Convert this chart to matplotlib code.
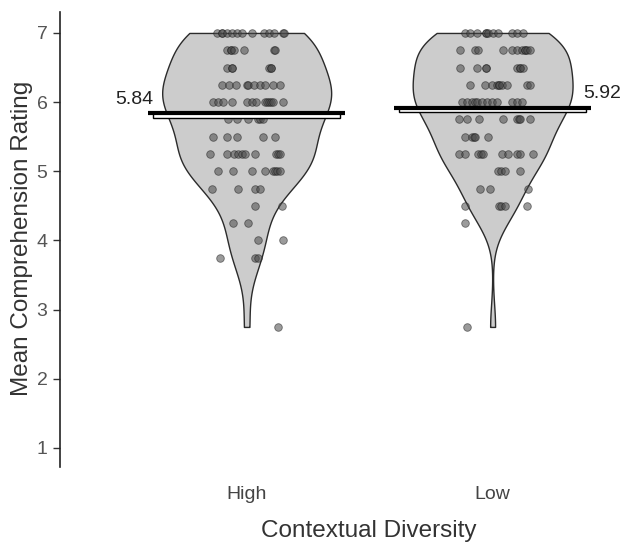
import numpy as np
import matplotlib
matplotlib.use('Agg')
import matplotlib.pyplot as plt
from matplotlib.patches import Rectangle

plt.rcParams['font.family'] = ['Liberation Sans', 'DejaVu Sans']

groups = ['High', 'Low']
means = [5.84, 5.92]
mean_labels = ['5.84', '5.92']
y_ticks = [1, 2, 3, 4, 5, 6, 7]

# rating levels and the horizontal jitter of each dot (dots that overlap appear twice)
high_levels = [7, 6.75, 6.5, 6.25, 6, 5.75, 5.5, 5.25, 5, 4.75, 4.5, 4.25, 4, 3.75, 2.75]
high_jitter = [
    [-0.12, -0.10, -0.10, -0.08, -0.06, -0.04, -0.02, 0.02, 0.07, 0.09, 0.11, 0.146, 0.15],
    [-0.08, -0.065, -0.065, -0.05, -0.01, 0.11, 0.115],
    [-0.08, -0.06, -0.06, 0.09, 0.10, 0.10],
    [-0.10, -0.07, -0.045, 0.0, 0.005, 0.03, 0.053, 0.073, 0.106, 0.134],
    [-0.138, -0.118, -0.098, -0.061, 0.0, 0.02, 0.037, 0.073, 0.081, 0.089, 0.098, 0.106, 0.146],
    [-0.077, -0.041, 0.004, 0.045, 0.053, 0.065],
    [-0.138, -0.081, -0.041, 0.065, 0.114],
    [-0.15, -0.081, -0.053, -0.037, -0.02, -0.008, 0.033, 0.118, 0.126, 0.134],
    [-0.118, -0.057, 0.02, 0.073, 0.106, 0.114, 0.122, 0.134],
    [-0.142, -0.037, 0.033, 0.053],
    [0.033, 0.142],
    [-0.057, 0.004],
    [0.045, 0.146],
    [-0.11, 0.033, 0.045],
    [0.126],
]

low_levels = [7, 6.75, 6.5, 6.25, 6, 5.75, 5.5, 5.25, 5, 4.75, 4.5, 4.25, 2.75]
low_jitter = [
    [-0.114, -0.093, -0.065, -0.028, -0.028, -0.02, 0.0, 0.02, 0.077, 0.098, 0.122],
    [-0.134, -0.073, -0.061, 0.041, 0.077, 0.098, 0.118, 0.13, 0.13, 0.138, 0.15],
    [-0.134, -0.065, -0.028, -0.028, 0.098, 0.11, 0.11, 0.122],
    [-0.093, -0.033, -0.004, 0.016, 0.024, 0.024, 0.037, 0.057, 0.138, 0.15],
    [-0.126, -0.106, -0.085, -0.07, -0.065, -0.045, -0.024, -0.004, 0.016, 0.077, 0.098, 0.118],
    [-0.138, -0.106, -0.057, 0.041, 0.098, 0.106, 0.11, 0.15],
    [-0.114, -0.085, -0.077, -0.073, -0.02],
    [-0.138, -0.114, -0.061, -0.049, -0.041, 0.037, 0.061, 0.098, 0.11, 0.163],
    [0.02, 0.033, 0.049, 0.11],
    [-0.053, -0.012, 0.142],
    [-0.114, 0.024, 0.033, 0.049, 0.138],
    [-0.114],
    [-0.106],
]


def expand(levels, jitter):
    vals, offs = [], []
    for lv, js in zip(levels, jitter):
        for j in js:
            vals.append(lv)
            offs.append(j)
    return np.array(vals, float), np.array(offs, float)


data = [expand(high_levels, high_jitter), expand(low_levels, low_jitter)]
positions = np.arange(len(groups))

fig = plt.figure(figsize=(6.27, 5.43), dpi=100)
ax = fig.add_axes([60 / 627, 76 / 543, (621 - 60) / 627, (467 - 12) / 543])

vp = ax.violinplot([d[0] for d in data], positions=positions, widths=[0.687, 0.65],
                   bw_method=0.4, showextrema=False, points=400)
for body in vp['bodies']:
    body.set_facecolor('#cccccc')
    body.set_edgecolor('#2b2b2b')
    body.set_linewidth(1.0)
    body.set_alpha(1)
    body.set_zorder(1)

for pos, (vals, offs) in zip(positions, data):
    ax.scatter(pos + offs, vals, s=30, facecolor='#4a4a4a', edgecolor='#1a1a1a',
               linewidth=0.6, alpha=0.55, zorder=3)

for pos, m, lab, side in zip(positions, means, mean_labels, ['left', 'right']):
    ax.add_patch(Rectangle((pos - 0.38, m - 0.065), 0.76, 0.065, facecolor='white',
                           edgecolor='black', linewidth=1.0, zorder=4))
    ax.plot([pos - 0.40, pos + 0.40], [m, m], color='black', linewidth=3.0,
            solid_capstyle='butt', zorder=5)
    if side == 'left':
        ax.text(pos - 0.38, m + 0.13, lab, ha='right', va='baseline', fontsize=14,
                color='#222222')
    else:
        ax.text(pos + 0.37, m + 0.14, lab, ha='left', va='baseline', fontsize=14,
                color='#222222')

ax.set_xlim(-0.759, 1.522)
ax.set_ylim(0.725, 7.303)
ax.set_yticks(y_ticks)
ax.set_yticklabels([str(t) for t in y_ticks])
ax.set_xticks(positions)
ax.set_xticklabels(groups)
ax.tick_params(axis='y', length=5, width=1, direction='out', labelsize=14,
               labelcolor='#555555', color='#333333', pad=4)
ax.tick_params(axis='x', length=0, labelsize=14, labelcolor='#444444', pad=14)
for s in ['top', 'right', 'bottom']:
    ax.spines[s].set_visible(False)
ax.spines['left'].set_linewidth(1.2)
ax.spines['left'].set_color('#222222')

fig.text(369 / 627, 1 - 531 / 543, 'Contextual Diversity', ha='center', va='center',
         fontsize=17.5, color='#333333')
fig.text(22 / 627, 1 - 238 / 543, 'Mean Comprehension Rating', ha='center', va='center',
         rotation=90, fontsize=17.5, color='#333333')

fig.savefig('out.png', dpi=100)
